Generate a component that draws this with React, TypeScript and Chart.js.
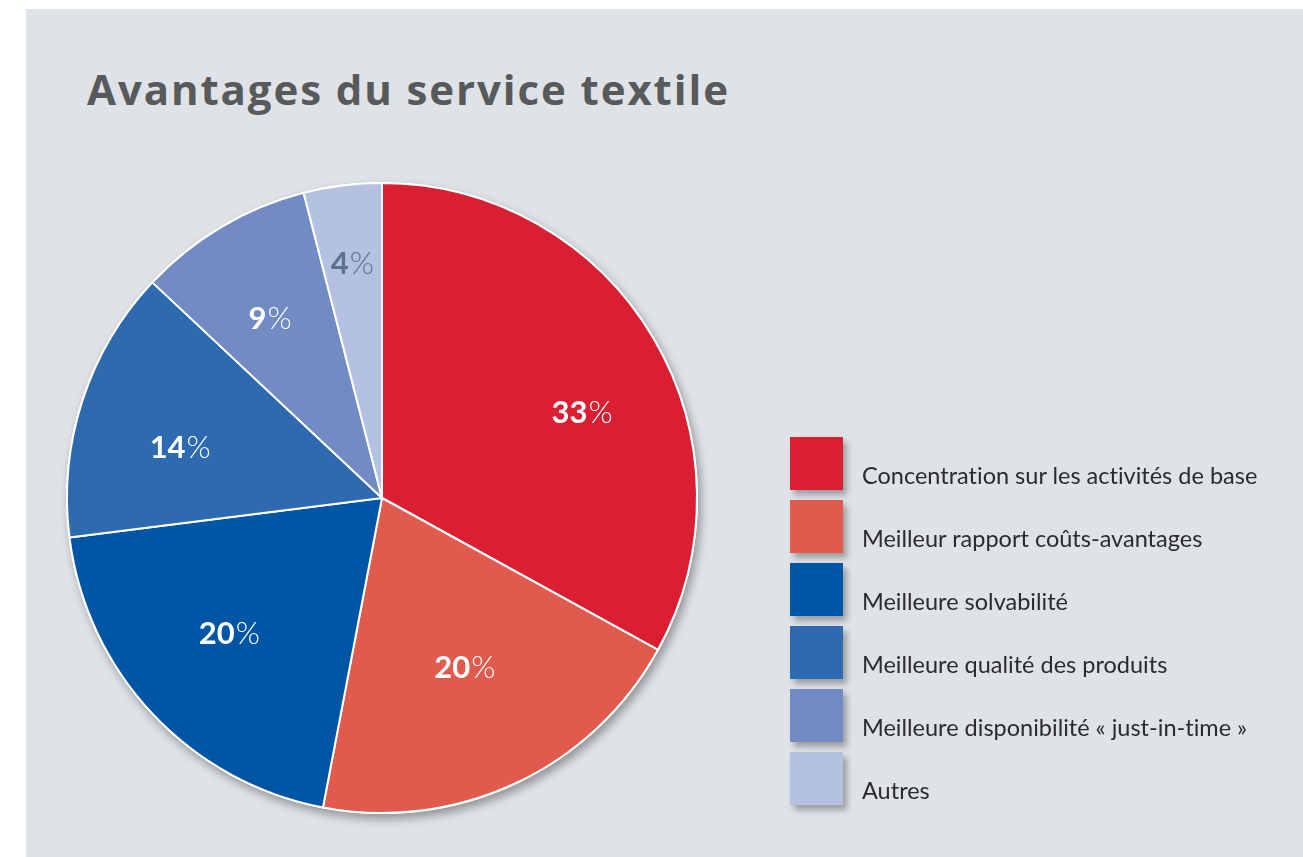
import React, { useEffect, useRef } from "react";
import { Chart, registerables } from "chart.js";

Chart.register(...registerables);

const titleText = "Avantages du service textile";
const categories = [
  "Concentration sur les activités de base",
  "Meilleur rapport coûts-avantages",
  "Meilleure solvabilité",
  "Meilleure qualité des produits",
  "Meilleure disponibilité « just-in-time »",
  "Autres",
];
const shares = [33, 20, 20, 14, 9, 4];
const sliceColors = ["#DA1F33", "#E05A4D", "#0055A4", "#2E6AB0", "#728BC5", "#B5C1E0"];
const labelColors = ["#ffffff", "#ffffff", "#ffffff", "#ffffff", "#ffffff", "#5B7391"];
const labelRadius = [0.69, 0.6, 0.65, 0.66, 0.67, 0.75];
const labelAngleShift = [7.6, -0.8, 1.4, -4.1, -1.4, 0];

const pieShadow = {
  id: "pieShadow",
  beforeDatasetsDraw(chart: any) {
    const meta = chart.getDatasetMeta(0);
    const el = meta.data[0];
    if (!el) return;
    const { x, y, outerRadius } = el.getProps(["x", "y", "outerRadius"], true);
    const ctx = chart.ctx;
    ctx.save();
    ctx.shadowColor = "rgba(0,0,0,0.35)";
    ctx.shadowBlur = 10;
    ctx.shadowOffsetX = 3;
    ctx.shadowOffsetY = 5;
    ctx.fillStyle = "#ffffff";
    ctx.beginPath();
    ctx.arc(x, y, outerRadius + 1, 0, Math.PI * 2);
    ctx.fill();
    ctx.restore();
  },
};

const pieLabels = {
  id: "pieLabels",
  afterDatasetsDraw(chart: any) {
    const meta = chart.getDatasetMeta(0);
    const ctx = chart.ctx;
    ctx.save();
    ctx.textBaseline = "middle";
    ctx.textAlign = "left";
    meta.data.forEach((el: any, i: number) => {
      const { x, y, startAngle, endAngle, outerRadius } = el.getProps(
        ["x", "y", "startAngle", "endAngle", "outerRadius"],
        true
      );
      const mid = (startAngle + endAngle) / 2 + (labelAngleShift[i] * Math.PI) / 180;
      const r = outerRadius * labelRadius[i];
      const px = x + Math.cos(mid) * r;
      const py = y + Math.sin(mid) * r;
      const num = String(shares[i]);
      const boldFont = "bold 31px Lato";
      const lightFont = "300 31px Lato";
      ctx.font = boldFont;
      const w1 = ctx.measureText(num).width;
      ctx.font = lightFont;
      const w2 = ctx.measureText("%").width;
      const sx = px - (w1 + w2 + 1) / 2;
      ctx.fillStyle = labelColors[i];
      ctx.font = boldFont;
      ctx.fillText(num, sx, py);
      ctx.font = lightFont;
      ctx.fillText("%", sx + w1 + 1, py);
    });
    ctx.restore();
  },
};

export default function App() {
  const canvasRef = useRef<HTMLCanvasElement | null>(null);

  useEffect(() => {
    if (!canvasRef.current) return;
    const chart = new Chart(canvasRef.current, {
      type: "pie",
      data: {
        labels: categories,
        datasets: [
          {
            data: shares,
            backgroundColor: sliceColors,
            borderColor: "#ffffff",
            borderWidth: 2,
          },
        ],
      },
      options: {
        responsive: false,
        animation: false,
        devicePixelRatio: 1,
        layout: { padding: { left: 66, right: 605, top: 182, bottom: 43 } },
        plugins: {
          legend: { display: false },
          tooltip: { enabled: false },
          title: { display: false },
        },
      },
      plugins: [pieShadow, pieLabels],
    });
    return () => chart.destroy();
  }, []);

  return (
    <div style={{ position: "fixed", left: 0, top: 0, width: 1303, height: 857, background: "#ffffff", overflow: "hidden" }}>
      <div style={{ position: "absolute", left: 26, top: 9, width: 1277, height: 848, background: "#dfe2e7" }} />
      <div
        style={{
          position: "absolute",
          left: 87,
          top: 64,
          fontFamily: "'Open Sans'",
          fontWeight: 700,
          fontSize: 42,
          letterSpacing: "1.9px",
          lineHeight: "50px",
          color: "#58595b",
          whiteSpace: "nowrap",
        }}
      >
        {titleText}
      </div>
      <canvas ref={canvasRef} width={1303} height={857} style={{ position: "absolute", left: 0, top: 0 }} />
      {categories.map((c, i) => (
        <div key={c} style={{ position: "absolute", left: 790, top: 437 + i * 63, width: 500, height: 53 }}>
          <div
            style={{
              position: "absolute",
              left: 0,
              top: 0,
              width: 53,
              height: 53,
              background: sliceColors[i],
              boxShadow: "4px 5px 6px rgba(0,0,0,0.3)",
            }}
          />
          <div
            style={{
              position: "absolute",
              left: 72,
              top: 24,
              fontFamily: "Lato",
              fontSize: 23.5,
              lineHeight: "28px",
              color: "#2b2b2b",
              whiteSpace: "nowrap",
              fontVariantLigatures: "none",
            }}
          >
            {c}
          </div>
        </div>
      ))}
    </div>
  );
}
